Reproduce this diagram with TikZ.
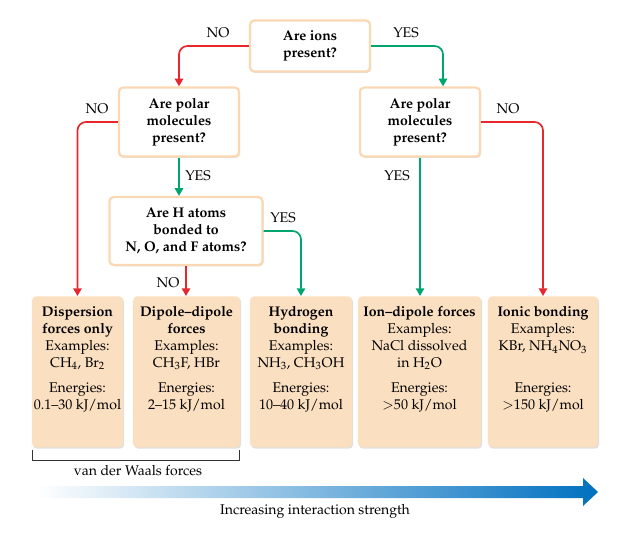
\documentclass[tikz,border=0pt]{standalone}
\usepackage[T1]{fontenc}
\usepackage{mathpazo}
\usepackage{tikz}
\usetikzlibrary{arrows.meta,shadows,positioning}

\definecolor{nored}{RGB}{232,38,45}
\definecolor{yesgreen}{RGB}{0,165,108}
\definecolor{peach}{RGB}{251,223,193}
\definecolor{peachline}{RGB}{250,216,180}
\definecolor{strengthblue}{RGB}{0,112,192}

\tikzset{
	question/.style={draw=peachline, line width=1.6pt, fill=white, rounded corners=3pt,
		align=center, font=\bfseries, inner sep=2pt,
		drop shadow={shadow xshift=0.8pt, shadow yshift=-1pt, opacity=0.25}},
	forcebox/.style={fill=peach, rounded corners=3pt, anchor=north, minimum height=3.775cm,
		drop shadow={shadow xshift=0.8pt, shadow yshift=-1pt, opacity=0.25}},
	forcetext/.style={anchor=north, align=center, inner sep=0pt},
	noarrow/.style={draw=nored, line width=1.2pt, rounded corners=6pt,
		-{Triangle[length=5.5pt,width=6pt]}},
	yesarrow/.style={draw=yesgreen, line width=1.2pt, rounded corners=6pt,
		-{Triangle[length=5.5pt,width=6pt]}},
}

\begin{document}
\begin{tikzpicture}[x=0.025cm, y=-0.025cm]
	
	\useasboundingbox (0,0) rectangle (642,537);
	
	\node[question, minimum width=3cm, minimum height=1.275cm] (ions) at (310,46) {Are ions\\present?};
	\node[question, minimum width=3cm, minimum height=1.725cm] (polarL) at (179,122) {Are polar\\molecules\\present?};
	\node[question, minimum width=3cm, minimum height=1.725cm] (polarR) at (420,122) {Are polar\\molecules\\present?};
	\node[question, minimum width=3.825cm, minimum height=1.7cm] (hatoms) at (186,231) {Are H atoms\\bonded to\\N, O, and F atoms?};
	
	\node[forcebox, minimum width=2.275cm] (disp) at (77.5,296) {};
	\node[forcebox, minimum width=2.675cm] (dipole) at (186.5,296) {};
	\node[forcebox, minimum width=2.55cm] (hydrogen) at (301,296) {};
	\node[forcebox, minimum width=3.075cm] (iondip) at (419.5,296) {};
	\node[forcebox, minimum width=2.75cm] (ionic) at (543,296) {};
	
	\node[forcetext] (dispText) at ([yshift=-0.26cm]disp.north)
		{\textbf{Dispersion}\\\textbf{forces only}\\Examples:\\CH$_4$, Br$_2$\\[6pt]Energies:\\0.1--30 kJ/mol};
	\node[forcetext] (dipoleText) at ([yshift=-0.26cm]dipole.north)
		{\textbf{Dipole--dipole}\\\textbf{forces}\\Examples:\\CH$_3$F, HBr\\[6pt]Energies:\\2--15 kJ/mol};
	\node[forcetext] (hydrogenText) at ([yshift=-0.26cm]hydrogen.north)
		{\textbf{Hydrogen}\\\textbf{bonding}\\Examples:\\NH$_3$, CH$_3$OH\\[6pt]Energies:\\10--40 kJ/mol};
	\node[forcetext] (iondipText) at ([yshift=-0.26cm]iondip.north)
		{\textbf{Ion--dipole forces}\\Examples:\\NaCl dissolved\\in H$_2$O\\[6pt]Energies:\\$>$50 kJ/mol};
	\node[forcetext] (ionicText) at ([yshift=-0.26cm]ionic.north)
		{\textbf{Ionic bonding}\\Examples:\\KBr, NH$_4$NO$_3$\\\mbox{}\\[6pt]Energies:\\$>$150 kJ/mol};
	
	\draw[noarrow] (ions.west) -| (polarL.north);
	\draw[yesarrow] (ions.east) -| ([xshift=0.575cm]polarR.north);
	\draw[noarrow] (polarL.west) -| (disp.north);
	\draw[noarrow] (polarR.east) -| (ionic.north);
	\draw[yesarrow] (polarL.south) -- (polarL.south |- hatoms.north);
	\draw[yesarrow] (polarR.south) -- (polarR.south |- iondip.north);
	\draw[yesarrow] (hatoms.east) -| (hydrogen.north);
	\draw[noarrow] (hatoms.south) -- (hatoms.south |- dipole.north);
	
	\node (ionsNo) at (218,33) {NO};
	\node (ionsYes) at (406,33) {YES};
	\node (polarLNo) at (97,109) {NO};
	\node (polarRNo) at (508,109) {NO};
	\node (polarLYes) at (198,176) {YES};
	\node (polarRYes) at (397,176) {YES};
	\node (hatomsYes) at (283,218) {YES};
	\node (hatomsNo) at (168,283) {NO};
	
	\draw[line width=0.6pt, black!80] (32,450) -- (32,460) -- (239,460) -- (239,450);
	\node (waals) at (138,471) {van der Waals forces};
	
	\shade[left color=white, right color=strengthblue] (37,486) -- (583,486) -- (583,478) -- (598,492) -- (583,506) -- (583,498) -- (37,498) -- cycle;
	\node (strength) at (315,511) {Increasing interaction strength};
	
\end{tikzpicture}
\end{document}
